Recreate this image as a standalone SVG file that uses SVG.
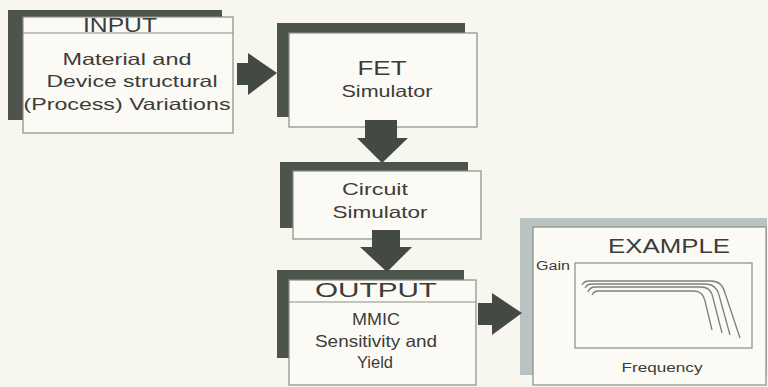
<svg xmlns="http://www.w3.org/2000/svg" width="768" height="387" viewBox="0 0 768 387">
<style>
.bg{fill:#f7f6ef}
.shadow{fill:#4d544b}
.shadowl{fill:#b9c3c1}
.box{fill:#fbfaf4;stroke:#8c8c86;stroke-width:1.2}
.div{stroke:#8c8c86;stroke-width:1.2}
.arrow{fill:#434a43}
text{font-family:"Liberation Sans",Arial,sans-serif;fill:#3c3c3a;text-anchor:middle}
.t{font-size:16.5px}
.h{font-size:20px}
.h2{font-size:21px}
.s{font-size:12.5px}
.curve{fill:none;stroke:#7d807c;stroke-width:1.3}
.plot{fill:none;stroke:#8c8c86;stroke-width:1.2}
</style>
<rect class="bg" x="0" y="0" width="768" height="387"/>

<g id="input">
<rect class="shadow" x="8" y="10" width="214" height="110"/>
<rect class="box" x="23" y="17" width="210" height="116"/>
<line class="div" x1="23" y1="33" x2="233" y2="33"/>
<text class="h" x="120" y="32" textLength="74" lengthAdjust="spacingAndGlyphs">INPUT</text>
<text class="t" x="127" y="65" textLength="129" lengthAdjust="spacingAndGlyphs">Material and</text>
<text class="t" x="132" y="87" textLength="171" lengthAdjust="spacingAndGlyphs">Device structural</text>
<text class="t" x="127" y="110" textLength="207" lengthAdjust="spacingAndGlyphs">(Process) Variations</text>
</g>

<g id="fet">
<rect class="shadow" x="277" y="23" width="188" height="94"/>
<rect class="box" x="289" y="33" width="188" height="94"/>
<text class="h" x="382" y="75" textLength="49" lengthAdjust="spacingAndGlyphs">FET</text>
<text class="t" x="387" y="97" textLength="91" lengthAdjust="spacingAndGlyphs">Simulator</text>
</g>

<g id="circuit">
<rect class="shadow" x="280" y="162" width="188" height="66"/>
<rect class="box" x="293" y="171" width="188" height="68"/>
<text class="t" x="375" y="195" textLength="66" lengthAdjust="spacingAndGlyphs">Circuit</text>
<text class="t" x="380" y="218" textLength="95" lengthAdjust="spacingAndGlyphs">Simulator</text>
</g>

<g id="output">
<rect class="shadow" x="277" y="270" width="187" height="88"/>
<rect class="box" x="289" y="280" width="187" height="105"/>
<line class="div" x1="289" y1="302" x2="476" y2="302"/>
<text class="h2" x="376" y="297" textLength="122" lengthAdjust="spacingAndGlyphs">OUTPUT</text>
<text class="t" x="376" y="325" textLength="48" lengthAdjust="spacingAndGlyphs">MMIC</text>
<text class="t" x="376" y="347" textLength="122" lengthAdjust="spacingAndGlyphs">Sensitivity and</text>
<text class="t" x="375" y="368" textLength="36" lengthAdjust="spacingAndGlyphs">Yield</text>
</g>

<g id="example">
<rect class="shadowl" x="520" y="218" width="247" height="157"/>
<rect class="box" x="533" y="227" width="233" height="158"/>
<text class="h" x="669" y="253" textLength="122" lengthAdjust="spacingAndGlyphs">EXAMPLE</text>
<text class="s" x="553" y="270" textLength="34" lengthAdjust="spacingAndGlyphs">Gain</text>
<rect class="plot" x="575" y="263" width="177" height="85"/>
<path class="curve" d="M582,285 Q584,281 589,281 L711,281 Q722,281 725,293 L740,338"/>
<path class="curve" d="M585,288 Q587,284 592,284 L706,284 Q716,284 719,295 L730,335"/>
<path class="curve" d="M588,292 Q590,287 595,287 L701,287 Q711,287 713,298 L722,333"/>
<path class="curve" d="M592,295 Q594,291 598,291 L694,291 Q703,291 705,301 L712,330"/>
<text class="s" x="662" y="372" textLength="81" lengthAdjust="spacingAndGlyphs">Frequency</text>
</g>

<g id="connectors">
<polygon class="arrow" points="237,63 248,63 248,53 277,73 248,95 248,85 237,85"/>
<polygon class="arrow" points="365,120 397,120 397,138 408,138 382,163 357,138 365,138"/>
<polygon class="arrow" points="372,230 400,230 400,247 412,247 387,272 360,247 372,247"/>
<polygon class="arrow" points="478,303 492,303 492,293 522,313 492,335 492,325 478,325"/>
</g>
</svg>
